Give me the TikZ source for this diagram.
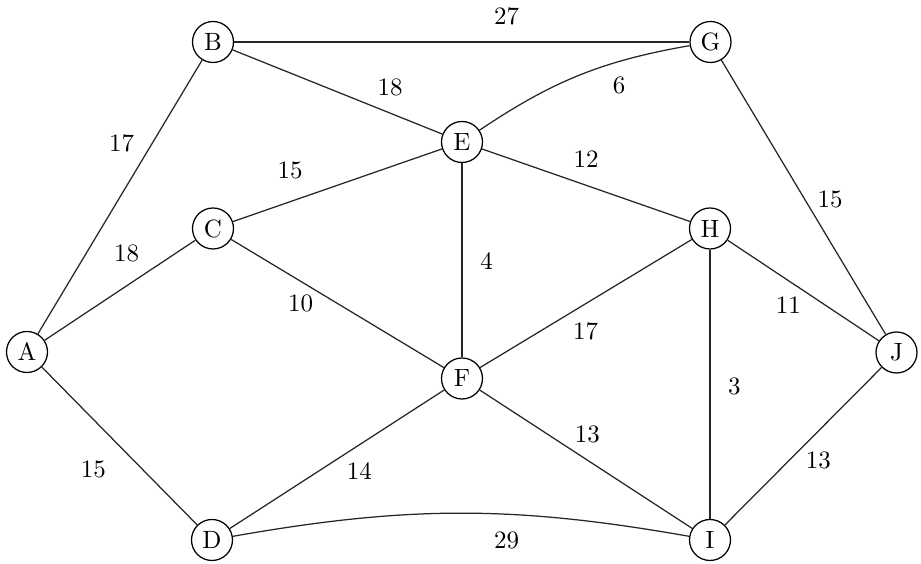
\documentclass[tikz,border=0pt]{standalone}
\begin{document}
\begin{tikzpicture}[x=0.4pt,y=-0.4pt,
  vertex/.style={circle,draw,line width=0.5pt,minimum size=16.4pt,inner sep=0pt,font=\normalsize},
  edge/.style={line width=0.5pt,draw=black!85},
  lbl/.style={inner sep=0pt,font=\normalsize}]
\useasboundingbox (0,0) rectangle (921,564);
\node[vertex] (A) at (27,352) {A};
\node[vertex] (B) at (213,42) {B};
\node[vertex] (C) at (213,228.5) {C};
\node[vertex] (D) at (212,540) {D};
\node[vertex] (E) at (462,142) {E};
\node[vertex] (F) at (462,378.5) {F};
\node[vertex] (G) at (710.5,42) {G};
\node[vertex] (H) at (710,228.5) {H};
\node[vertex] (I) at (710,540) {I};
\node[vertex] (J) at (896.5,352.5) {J};
\draw[edge] (B) -- (G);
\draw[edge] (B) -- (E);
\draw[edge] (E) to[bend left=12] (G);
\draw[edge] (A) -- (B);
\draw[edge] (C) -- (E);
\draw[edge] (E) -- (H);
\draw[edge] (G) -- (J);
\draw[edge] (A) -- (C);
\draw[edge] (E) -- (F);
\draw[edge] (C) -- (F);
\draw[edge] (F) -- (H);
\draw[edge] (H) -- (J);
\draw[edge] (H) -- (I);
\draw[edge] (A) -- (D);
\draw[edge] (D) -- (F);
\draw[edge] (F) -- (I);
\draw[edge] (I) -- (J);
\draw[edge] (D) to[bend left=10] (I);
\node[lbl] (l27) at (506.7,16) {27};
\node[lbl] (l18a) at (390,87.3) {18};
\node[lbl] (l6) at (619,85) {6};
\node[lbl] (l17a) at (121.7,143.3) {17};
\node[lbl] (l15a) at (290,170.7) {15};
\node[lbl] (l12) at (586,159) {12};
\node[lbl] (l15b) at (830,199.3) {15};
\node[lbl] (l18b) at (126.7,253.3) {18};
\node[lbl] (l4) at (486.7,261) {4};
\node[lbl] (l10) at (300.7,303.3) {10};
\node[lbl] (l17b) at (585.7,331) {17};
\node[lbl] (l11) at (788.3,305) {11};
\node[lbl] (l3) at (734.3,386.7) {3};
\node[lbl] (l15c) at (93.3,469.3) {15};
\node[lbl] (l14) at (359.3,471) {14};
\node[lbl] (l13a) at (587.3,434) {13};
\node[lbl] (l13b) at (818.3,460) {13};
\node[lbl] (l29) at (506.7,540) {29};
\end{tikzpicture}
\end{document}
